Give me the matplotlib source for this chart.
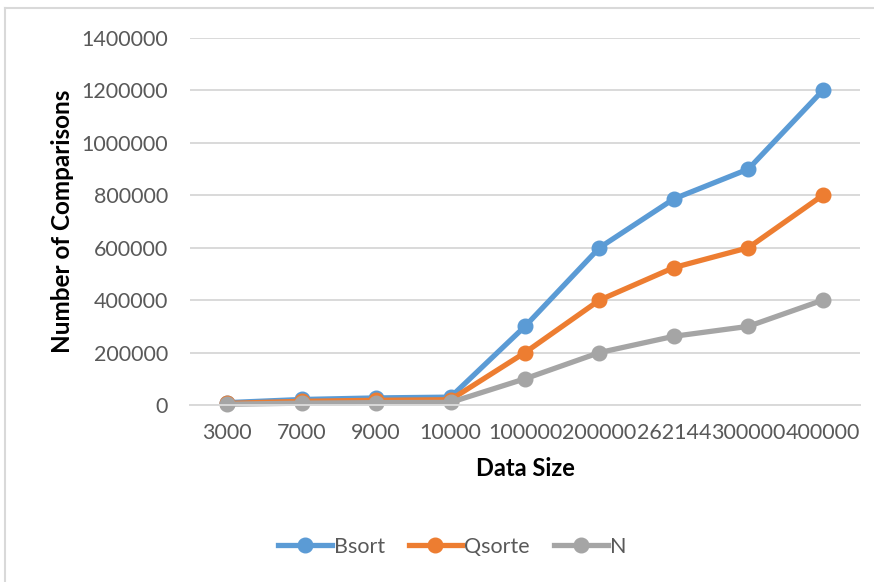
import matplotlib.pyplot as plt
from matplotlib.lines import Line2D

sizes = ['3000', '7000', '9000', '10000', '100000', '200000', '262144', '300000', '400000']
bsort = [9000, 21000, 27000, 30000, 300000, 600000, 786432, 900000, 1200000]
qsorte = [6000, 14000, 18000, 20000, 200000, 400000, 524288, 600000, 800000]
n_vals = [3000, 7000, 9000, 10000, 100000, 200000, 262144, 300000, 400000]
y_ticks = [0, 200000, 400000, 600000, 800000, 1000000, 1200000, 1400000]

plt.rcParams['font.family'] = ['Lato', 'DejaVu Sans']

fig = plt.figure(figsize=(8.74, 5.82), dpi=100)
ax = fig.add_axes([190 / 874, 1 - 405 / 582, 670 / 874, 367 / 582])

x = range(len(sizes))
series = [('Bsort', bsort, '#5B9BD5'), ('Qsorte', qsorte, '#ED7D31'), ('N', n_vals, '#A5A5A5')]
for name, vals, col in series:
    ax.plot(x, vals, color=col, lw=3.8, marker='o', ms=10.5, label=name,
            solid_capstyle='round', clip_on=False)

ax.set_xlim(-0.5, len(sizes) - 0.5)
ax.set_ylim(0, 1400000)
ax.set_yticks(y_ticks)
ax.set_yticklabels([str(v) for v in y_ticks])
ax.set_xticks(list(x))
ax.set_xticklabels(sizes)
ax.grid(axis='y', color='#D9D9D9', lw=1.4)
ax.set_axisbelow(True)
for s in ['top', 'right', 'left']:
    ax.spines[s].set_visible(False)
ax.spines['bottom'].set_color('#D9D9D9')
ax.spines['bottom'].set_linewidth(1.4)
ax.tick_params(length=0, labelsize=15.5, colors='#595959')
ax.tick_params(axis='y', pad=16)
ax.tick_params(axis='x', pad=13)

ax.set_xlabel('Data Size', fontsize=17, fontweight='bold', labelpad=10)
ax.set_ylabel('Number of Comparisons', fontsize=17.5, fontweight='bold', labelpad=5)

handles = [Line2D([], [], color=c, lw=3.8, marker='o', ms=10.5) for _, _, c in series]
fig.legend(handles, [s[0] for s in series], loc='center', bbox_to_anchor=(452 / 874, 1 - 547 / 582),
           ncol=3, frameon=False, fontsize=15.5, handlelength=2.5, handletextpad=0.1,
           columnspacing=1.1, labelcolor='#595959')

# chart frame edges
fig.add_artist(Line2D([5 / 874, 1], [1 - 8 / 582] * 2, color='#D9D9D9', lw=1.5))
fig.add_artist(Line2D([5 / 874] * 2, [0, 1 - 8 / 582], color='#D9D9D9', lw=1.5))

fig.savefig('out.png', dpi=100)
